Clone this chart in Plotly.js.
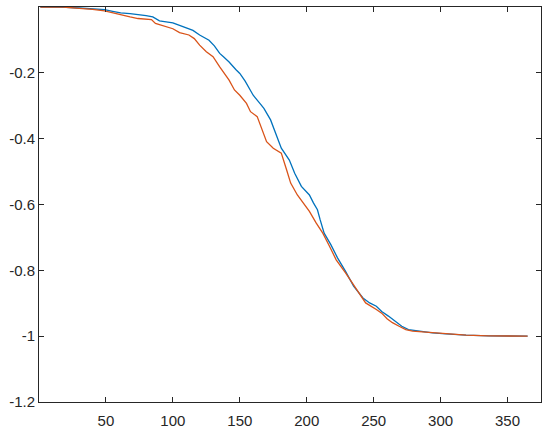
<!DOCTYPE html>
<html><head><meta charset="utf-8">
<script src="https://cdn.plot.ly/plotly-3.0.1.min.js"></script>
<style>html,body{margin:0;padding:0;background:#fff}#chart{width:550px;height:432px}</style>
</head><body><div id="chart"></div>
<script>
// Series 1 (blue)
var blueDays = [1,10,20,30,40,49,55,61,68,74,80,85,90,95,100,105,110,115,120,124,127,131,135,138,142,147,150,154,157,160,165,168,173,177,181,187,191,196,202,205,208,210,213,218,223,229,235,242,247,252,256,261,266,271,276,284,294,304,319,336,365];
var blueVals = [0,0,-0.001,-0.003,-0.005,-0.008,-0.013,-0.018,-0.02,-0.022,-0.026,-0.03,-0.042,-0.045,-0.048,-0.056,-0.064,-0.071,-0.085,-0.095,-0.101,-0.118,-0.141,-0.152,-0.167,-0.19,-0.202,-0.225,-0.245,-0.268,-0.293,-0.308,-0.343,-0.384,-0.429,-0.465,-0.505,-0.545,-0.571,-0.595,-0.616,-0.646,-0.687,-0.722,-0.762,-0.803,-0.848,-0.884,-0.899,-0.909,-0.925,-0.939,-0.955,-0.970,-0.98,-0.985,-0.990,-0.993,-0.997,-0.999,-1.0];
// Series 2 (orange)
var orangeDays = [1,18,30,40,49,55,61,68,74,84,87,92,100,105,112,116,120,125,130,135,139,142,146,150,155,158,163,166,170,175,181,185,188,193,199,202,207,212,217,222,229,237,244,252,256,260,264,269,274,279,294,304,319,336,365];
var orangeVals = [0,0,-0.004,-0.007,-0.012,-0.018,-0.025,-0.03,-0.035,-0.038,-0.05,-0.057,-0.066,-0.078,-0.085,-0.096,-0.116,-0.136,-0.151,-0.182,-0.205,-0.222,-0.252,-0.268,-0.293,-0.318,-0.333,-0.364,-0.409,-0.429,-0.444,-0.495,-0.535,-0.571,-0.604,-0.621,-0.656,-0.687,-0.727,-0.768,-0.808,-0.858,-0.899,-0.919,-0.93,-0.947,-0.959,-0.970,-0.98,-0.985,-0.990,-0.993,-0.997,-0.999,-1.0];
// Tick labels
var xTickVals = [50,100,150,200,250,300,350];
var yTickVals = [-1.2,-1,-0.8,-0.6,-0.4,-0.2];
var yTickText = ['-1.2','-1','-0.8','-0.6','-0.4','-0.2'];

var traces = [
  {x: blueDays, y: blueVals, type:'scatter', mode:'lines', line:{color:'#0072BD', width:1.3}, showlegend:false, hoverinfo:'skip'},
  {x: orangeDays, y: orangeVals, type:'scatter', mode:'lines', line:{color:'#D95319', width:1.3}, showlegend:false, hoverinfo:'skip'}
];
var axisCommon = {
  showgrid:false, zeroline:false, showline:true, linecolor:'#262626', linewidth:1,
  mirror:'ticks', ticks:'inside', ticklen:5, tickwidth:1, tickcolor:'#262626',
  tickfont:{family:'Liberation Sans, Arial, sans-serif', size:15, color:'#262626'}
};
var layout = {
  width:550, height:432,
  margin:{l:39, r:9, t:7, b:30},
  paper_bgcolor:'#fff', plot_bgcolor:'#fff',
  xaxis: Object.assign({}, axisCommon, {range:[0,375], tickmode:'array', tickvals:xTickVals, ticklabelstandoff:5}),
  yaxis: Object.assign({}, axisCommon, {range:[-1.2,0], tickmode:'array', tickvals:yTickVals, ticktext:yTickText})
};
Plotly.newPlot('chart', traces, layout, {staticPlot:true, displayModeBar:false});
</script>
</body></html>
